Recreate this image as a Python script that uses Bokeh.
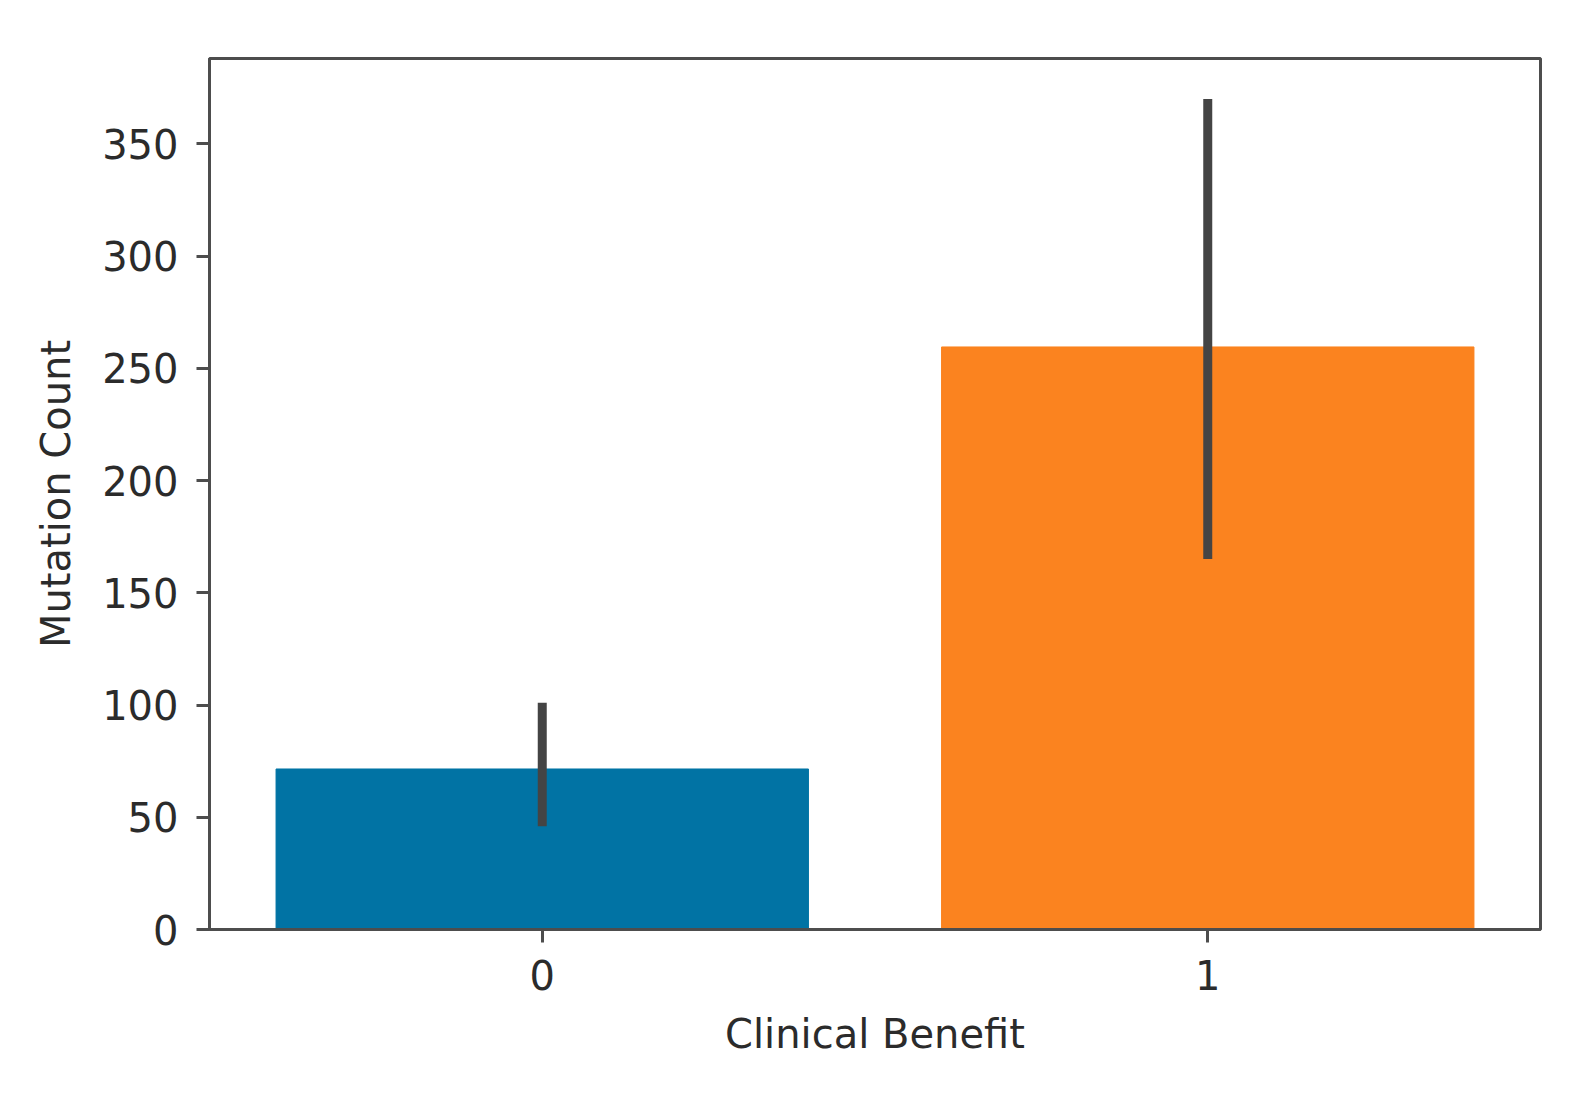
from bokeh.plotting import figure
from bokeh.models import ColumnDataSource, FactorRange, Range1d, FixedTicker
from bokeh.embed import file_html
from bokeh.resources import INLINE

categories = ["0", "1"]
mean_counts = [71.5, 259.5]
ci_low = [46, 165]
ci_high = [101, 370]
bar_colors = ["#0173a4", "#fb831f"]
y_ticks = [0, 50, 100, 150, 200, 250, 300, 350]

src = ColumnDataSource(dict(cat=categories, mean=mean_counts, lo=ci_low, hi=ci_high, color=bar_colors))

FONT = "DejaVu Sans"
AX = "#4d4d4d"

p = figure(x_range=FactorRange(*categories), y_range=Range1d(0, 388),
           width=1575, height=1100, output_backend="svg", toolbar_location=None,
           min_border_left=209, min_border_top=58, min_border_right=35, min_border_bottom=171)

p.vbar(x="cat", top="mean", width=0.8, color="color", source=src)
p.segment(x0="cat", y0="lo", x1="cat", y1="hi", line_color="#444444", line_width=9,
          line_cap="butt", source=src)

p.xgrid.visible = False
p.ygrid.visible = False
p.outline_line_color = AX
p.outline_line_width = 3
p.outline_line_alpha = 1.0

p.yaxis.ticker = FixedTicker(ticks=y_ticks)
p.yaxis.minor_tick_line_color = None
for ax in (p.xaxis[0], p.yaxis[0]):
    ax.axis_line_color = AX
    ax.axis_line_width = 3
    ax.major_tick_line_color = AX
    ax.major_tick_line_width = 3
    ax.major_tick_out = 13
    ax.major_tick_in = 0
    ax.major_label_text_font = FONT
    ax.major_label_text_font_size = "40px"
    ax.major_label_text_color = "#2b2b2b"
    ax.axis_label_text_font = FONT
    ax.axis_label_text_font_size = "40px"
    ax.axis_label_text_font_style = "normal"
    ax.axis_label_text_color = "#2b2b2b"

p.xaxis.major_label_standoff = 17
p.yaxis.major_label_standoff = 18
p.xaxis.axis_label = "Clinical Benefit"
p.yaxis.axis_label = "Mutation Count"
p.xaxis.axis_label_standoff = 18
p.yaxis.axis_label_standoff = 20

open("out.html", "w").write(file_html(p, INLINE))
